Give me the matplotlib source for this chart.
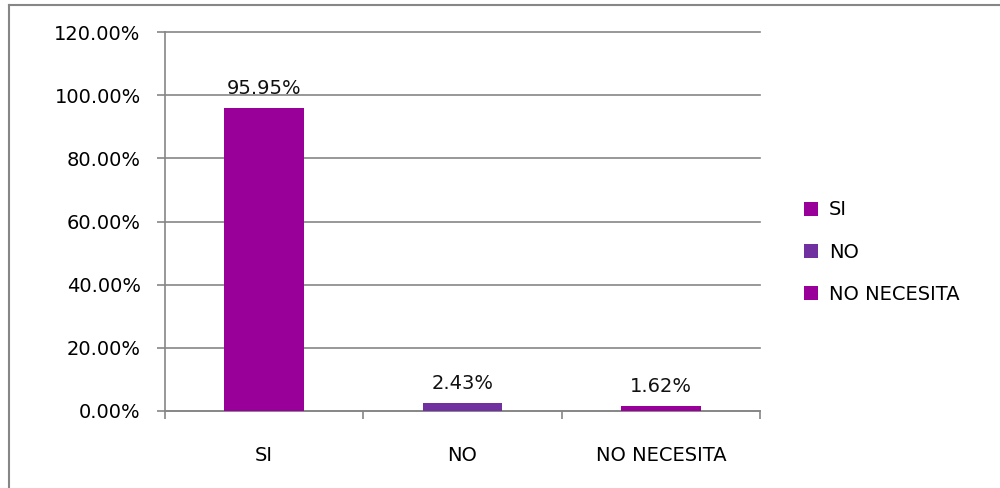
import matplotlib
matplotlib.use("Agg")
import matplotlib.pyplot as plt
from matplotlib.patches import Patch
from matplotlib.ticker import FuncFormatter

categories = ["SI", "NO", "NO NECESITA"]
values = [95.95, 2.43, 1.62]
colors = ["#990099", "#7030A0", "#990099"]
y_ticks = [0, 20, 40, 60, 80, 100, 120]

plt.rcParams["font.family"] = ["DejaVu Sans"]
FS = 14
AXIS_GRAY = "#868686"

fig = plt.figure(figsize=(10, 4.88), dpi=100)
ax = fig.add_axes([0.165, 0.158, 0.595, 0.776])

x = list(range(len(categories)))
ax.bar(x, values, width=0.4, color=colors, zorder=3)

for xi, v in zip(x, values):
    ax.annotate(f"{v:.2f}%", (xi, v), xytext=(0, 10), textcoords="offset points",
                ha="center", va="baseline", fontsize=FS, color="#111111")

ax.set_xlim(-0.5, len(categories) - 0.5)
ax.set_ylim(0, 120)
ax.set_yticks(y_ticks)
ax.yaxis.set_major_formatter(FuncFormatter(lambda v, p: f"{v:.2f}%"))
ax.grid(axis="y", color=AXIS_GRAY, linewidth=1.2, zorder=0)
for gl in ax.get_ygridlines():
    gl.set_clip_on(False)

# category labels centred under the bars, tick marks on the boundaries
ax.set_xticks(x)
ax.set_xticklabels(categories, fontsize=FS)
ax.tick_params(axis="x", length=0, pad=25)
ax.set_xticks([-0.5 + i for i in range(len(categories) + 1)], minor=True)
ax.tick_params(axis="x", which="minor", length=5.5, width=1.2, color=AXIS_GRAY, direction="out")
ax.tick_params(axis="y", length=5.5, width=1.2, color=AXIS_GRAY, labelsize=FS, pad=12)

for side in ["top", "right"]:
    ax.spines[side].set_visible(False)
for side in ["left", "bottom"]:
    ax.spines[side].set_color(AXIS_GRAY)
    ax.spines[side].set_linewidth(1.2)

handles = [Patch(facecolor=c, edgecolor="none") for c in colors]
fig.legend(handles, categories, loc="center left", bbox_to_anchor=(0.786, 0.483),
           frameon=False, fontsize=FS, handlelength=0.75, handleheight=0.75,
           handletextpad=0.55, labelspacing=1.2)

# chart border (only the left and top edges fall inside the frame)
fig.add_artist(plt.Line2D([0.009, 0.009], [0, 0.99], transform=fig.transFigure,
                          color=AXIS_GRAY, linewidth=1.5))
fig.add_artist(plt.Line2D([0.009, 1.0], [0.99, 0.99], transform=fig.transFigure,
                          color=AXIS_GRAY, linewidth=1.5))

fig.savefig("out.png", dpi=100, facecolor="white")
